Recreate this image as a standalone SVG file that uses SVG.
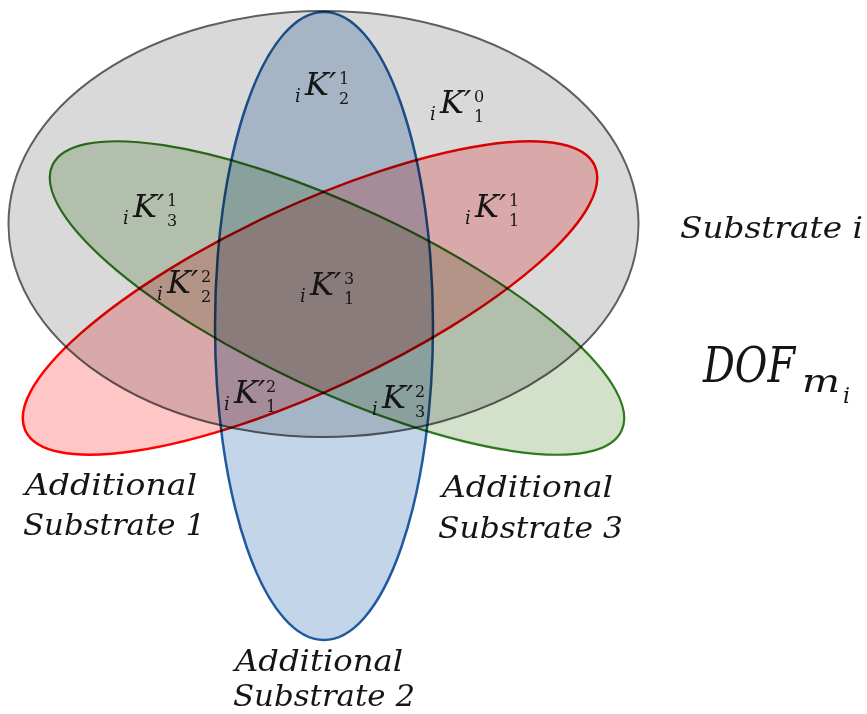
<svg xmlns="http://www.w3.org/2000/svg" width="867" height="714" viewBox="0 0 867 714">
<style>
  .set { mix-blend-mode: multiply; }
  text { font-family: "DejaVu Serif", "Liberation Serif", serif; font-style: italic; fill: #151515; }
  .k { font-size: 32px; }
  .s { font-size: 18px; }
  .d { font-size: 16px; font-style: normal; }
  .lbl { font-size: 30px; }
</style>
<rect width="867" height="714" fill="#ffffff"/>
<g id="sets">
  <g id="substrate-i" class="set"><ellipse cx="323.5" cy="224" rx="315" ry="213" fill="#d9d9d9" stroke="#5f5f5f" stroke-width="2"/></g>
  <g id="substrate-2" class="set"><ellipse cx="324" cy="326" rx="109" ry="314" fill="#c3d5e8" stroke="#1f5a9e" stroke-width="2.5"/></g>
  <g id="substrate-3" class="set"><ellipse cx="0" cy="0" rx="314" ry="92" transform="translate(337 298) rotate(25)" fill="#d3e1cb" stroke="#2f7a1f" stroke-width="2.2"/></g>
  <g id="substrate-1" class="set"><ellipse cx="0" cy="0" rx="314" ry="92" transform="translate(310 298) rotate(-25)" fill="#ffc6c6" stroke="#ff0000" stroke-width="2.5"/></g>
</g>
<g id="region-labels">
  <g id="k12"><text class="s" x="295" y="102">i</text><text class="k" x="305" y="95">K′</text><text class="d" x="339" y="84">1</text><text class="d" x="339" y="104">2</text></g>
  <g id="k01"><text class="s" x="430" y="120">i</text><text class="k" x="440" y="113">K′</text><text class="d" x="474" y="102">0</text><text class="d" x="474" y="122">1</text></g>
  <g id="k13"><text class="s" x="123" y="224">i</text><text class="k" x="133" y="217">K′</text><text class="d" x="167" y="206">1</text><text class="d" x="167" y="226">3</text></g>
  <g id="k22"><text class="s" x="157" y="300">i</text><text class="k" x="167" y="293">K′</text><text class="d" x="201" y="282">2</text><text class="d" x="201" y="302">2</text></g>
  <g id="k31"><text class="s" x="300" y="302">i</text><text class="k" x="310" y="295">K′</text><text class="d" x="344" y="284">3</text><text class="d" x="344" y="304">1</text></g>
  <g id="k11"><text class="s" x="465" y="224">i</text><text class="k" x="475" y="217">K′</text><text class="d" x="509" y="206">1</text><text class="d" x="509" y="226">1</text></g>
  <g id="k21"><text class="s" x="224" y="410">i</text><text class="k" x="234" y="403">K′</text><text class="d" x="266" y="392">2</text><text class="d" x="266" y="412">1</text></g>
  <g id="k23"><text class="s" x="372" y="415">i</text><text class="k" x="382" y="408">K′</text><text class="d" x="415" y="397">2</text><text class="d" x="415" y="417">3</text></g>
</g>
<g id="set-labels">
  <text class="lbl" x="680" y="238" textLength="183" lengthAdjust="spacingAndGlyphs">Substrate i</text>
  <text id="dof" x="703" y="382" font-size="48"><tspan textLength="92" lengthAdjust="spacingAndGlyphs">DOF</tspan><tspan x="802" y="392" font-size="32" textLength="38" lengthAdjust="spacingAndGlyphs">m</tspan><tspan x="843" y="403" font-size="22">i</tspan></text>
  <text class="lbl" x="25" y="495" textLength="172" lengthAdjust="spacingAndGlyphs">Additional</text>
  <text class="lbl" x="23" y="535" textLength="182" lengthAdjust="spacingAndGlyphs">Substrate 1</text>
  <text class="lbl" x="442" y="497" textLength="171" lengthAdjust="spacingAndGlyphs">Additional</text>
  <text class="lbl" x="438" y="538" textLength="185" lengthAdjust="spacingAndGlyphs">Substrate 3</text>
  <text class="lbl" x="235" y="671" textLength="168" lengthAdjust="spacingAndGlyphs">Additional</text>
  <text class="lbl" x="233" y="706" style="font-size:29px" textLength="182" lengthAdjust="spacingAndGlyphs">Substrate 2</text>
</g>
<g id="connectors"></g>
</svg>
